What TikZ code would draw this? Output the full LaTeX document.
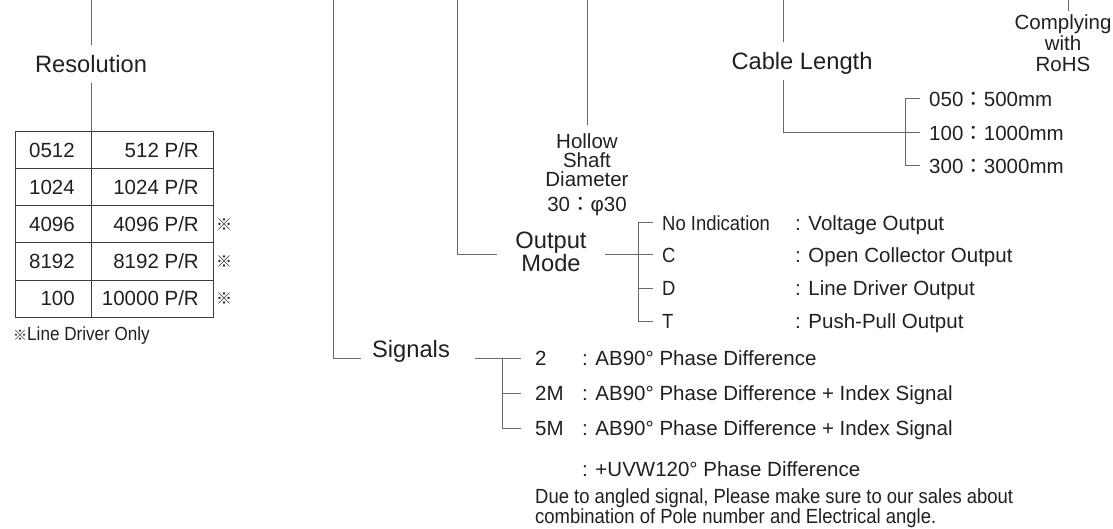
\documentclass[tikz,border=0pt]{standalone}
\usepackage{fontspec}
\setmainfont{Liberation Sans}
\newfontfamily\narrowfont[FakeStretch=0.9]{Liberation Sans}
\newfontfamily\cjkfont{Noto Sans CJK JP}
\usetikzlibrary{positioning}
\definecolor{inkcol}{RGB}{35,31,32}
\definecolor{wirecol}{RGB}{105,105,105}
\definecolor{gridcol}{RGB}{60,60,60}
\newcommand{\fwc}{{\cjkfont ：}}
\newcommand{\refmark}[1][12]{{\cjkfont\fontsize{#1}{#1}\selectfont ※}}

\begin{document}
\begin{tikzpicture}[x=1pt, y=-1pt,
    title/.style={font=\fontsize{23.7}{22}\selectfont, text=inkcol, inner sep=0pt, align=center},
    item/.style={font=\fontsize{20.5}{19.5}\selectfont, text=inkcol, inner sep=0pt, text height=14.7pt, text depth=0pt},
    small/.style={item, font=\narrowfont\fontsize{20.5}{19.5}\selectfont},
    stack/.style={font=\fontsize{20.5}{19}\selectfont, text=inkcol, align=center, inner xsep=0pt, inner ysep=8pt},
    opt/.style={item, anchor=west, inner xsep=9pt},
    smallopt/.style={small, anchor=west, inner xsep=9pt},
    desc/.style={item, anchor=west},
    cell/.style={item, anchor=east},
    conn/.style={draw=wirecol, line width=1pt}
]
\useasboundingbox (0,0) rectangle (1113,529);

% Resolution
\coordinate (resTop) at (91,0);
\coordinate (tblTop) at (91,132);
\node[title, text height=17pt, text depth=0pt, inner ysep=10pt] (resol) at (91,64) {Resolution};
\draw[conn] (resTop) -- (resol.north);
\draw[conn] (resol.south) -- (tblTop);

% Resolution table
\draw[draw=gridcol, line width=1pt] (15,132) rectangle (213,317);
\draw[draw=gridcol, line width=1pt] (tblTop) -- (91,317);
\foreach \i in {1,...,4}
  \draw[draw=gridcol, line width=1pt] (15,132+37*\i) -- (213,132+37*\i);
\foreach \code/\pulse [count=\i] in {0512/512, 1024/1024, 4096/4096, 8192/8192, 100/10000} {
  \node[cell] (code\i) at (75,113.5+37*\i) {\code};
  \node[cell] (pr\i) at (199,113.5+37*\i) {\pulse~P/R};
}
\foreach \i in {3,4,5}
  \node[text=inkcol, inner sep=0pt] (mark\i) at (224,113.5+37*\i) {\refmark[16]};
\node[small, anchor=west, font=\narrowfont\fontsize{19}{19}\selectfont] (note) at (13,333) {\refmark[14]Line Driver Only};

% Hollow shaft
\coordinate (holTop) at (587,0);
\node[stack] (hollow) at (587,160) {Hollow\\Shaft\\Diameter};
\node[item] (bore) at (587,204) {30\fwc φ30};
\draw[conn] (holTop) -- (hollow.north);

% Output mode
\coordinate (outTop) at (457,0);
\node[title, inner xsep=18pt] (mode) at (551,252) {Output\\Mode};
\node[smallopt] (oNo) at (653,223) {No Indication};
\node[smallopt] (oC) at (653,255) {C};
\node[smallopt] (oD) at (653,288) {D};
\node[smallopt] (oT) at (653,321) {T};
\node[desc] (dNo) at (795,223) {: Voltage Output};
\node[desc] (dC) at (795,255) {: Open Collector Output};
\node[desc] (dD) at (795,288) {: Line Driver Output};
\node[desc] (dT) at (795,321) {: Push-Pull Output};
\draw[conn] (outTop) |- (oC.west -| mode.west);
\draw[conn] (mode.east |- oC.west) -- (oC.west);
\draw[conn] (oNo.west) -- ++(-15,0) |- (oT.west);
\draw[conn] (oD.west) -- ++(-15,0);

% Signals
\coordinate (sigTop) at (333,0);
\node[title, inner xsep=11pt, text height=17pt, text depth=0pt] (sig) at (411,349) {Signals};
\node[opt, inner xsep=14pt] (s2) at (521,358) {2};
\node[opt, inner xsep=14pt] (s2M) at (521,393) {2M};
\node[opt, inner xsep=14pt] (s5M) at (521,428) {5M};
\node[desc] (g2) at (582,358) {: AB90° Phase Difference};
\node[desc] (g2M) at (582,393) {: AB90° Phase Difference + Index Signal};
\node[desc] (g5M) at (582,428) {: AB90° Phase Difference + Index Signal};
\node[desc] (g5Mb) at (582,469) {: +UVW120° Phase Difference};
\node[small, anchor=west] (rem1) at (535,496) {Due to angled signal, Please make sure to our sales about};
\node[small, anchor=west] (rem2) at (535,516) {combination of Pole number and Electrical angle.};
\draw[conn] (sigTop) |- (sig.west |- s2.west);
\draw[conn, shorten <=14pt] (sig.east |- s2.west) -- (s2.west);
\draw[conn] (s2.west) -- ++(-19,0) |- (s5M.west);
\draw[conn] (s2M.west) -- ++(-19,0);

% Cable length
\coordinate (cabTop) at (783,0);
\node[title, text height=17pt, text depth=0pt, inner ysep=10pt] (cable) at (802,61) {Cable Length};
\node[opt] (c050) at (920,99) {050\fwc 500mm};
\node[opt] (c100) at (920,133) {100\fwc 1000mm};
\node[opt] (c300) at (920,166) {300\fwc 3000mm};
\draw[conn] (cabTop) -- (cabTop |- cable.north);
\draw[conn] (cabTop |- cable.south) |- (c100.west);
\draw[conn] (c050.west) -- ++(-15,0) |- (c300.west);

% RoHS
\coordinate (rohsTop) at (1068,0);
\node[stack, inner ysep=3pt, font=\fontsize{20.5}{21}\selectfont] (rohs) at (1063,43) {Complying\\with\\RoHS};
\draw[conn] (rohsTop) -- (rohsTop |- rohs.north);

\end{tikzpicture}
\end{document}
